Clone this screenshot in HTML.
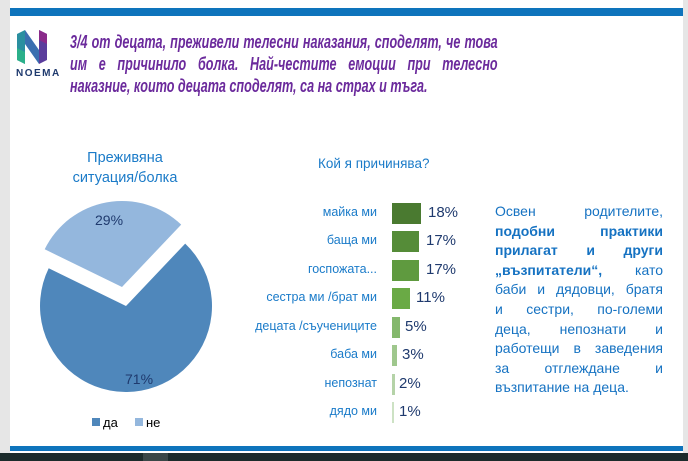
<!DOCTYPE html>
<html><head><meta charset="utf-8"><style>
body{margin:0;width:688px;height:461px;position:relative;background:#fff;font-family:"Liberation Sans","DejaVu Sans",sans-serif;overflow:hidden}
.a{position:absolute;white-space:nowrap}
.title{position:absolute;left:70px;top:31px;width:611px;color:#6b2a9c;font-style:italic;font-weight:bold;font-size:18px;line-height:22px;transform:scaleX(0.7);transform-origin:0 0}
.j{display:flex;justify-content:space-between;white-space:nowrap}
.l{white-space:nowrap}
.rt{position:absolute;left:495px;top:202px;width:168px;color:#1572c2;font-size:14px;line-height:19.6px}
.lbl{position:absolute;right:311px;color:#1a7bc9;font-size:12.5px;white-space:nowrap}
.val{position:absolute;color:#1f3a6e;font-size:15px}
.bar{position:absolute;left:392px;height:21px}
</style></head><body>
<div class="a" style="left:0;top:0;width:10px;height:461px;background:#e6e6e6"></div>
<div class="a" style="left:683px;top:0;width:5px;height:461px;background:#e6e6e6"></div>
<div class="a" style="left:10px;top:8px;width:673px;height:8px;background:#0e74bc"></div>
<div class="a" style="left:10px;top:446px;width:673px;height:5px;background:#0e74bc"></div>
<div class="a" style="left:0;top:453px;width:688px;height:8px;background:#1c2b2b"></div>
<div class="a" style="left:143px;top:453px;width:25px;height:8px;background:#3a4747"></div>
<svg class="a" style="left:17px;top:30px" width="30" height="34" viewBox="0 0 30 34">
<polygon points="0,4 8,0 8,34 0,30" fill="#2a8fa0"/><polygon points="0,18 8,22 8,34 0,30" fill="#2bb08a"/>
<polygon points="8,0 22,20 22,34 8,14" fill="#3a6fb0"/><polygon points="22,0 30,4 30,30 22,34" fill="#5a3d9c"/><polygon points="22,0 30,4 30,14 22,10" fill="#8a2a8a"/>
</svg>
<div class="a" style="left:16px;top:68px;font-size:10px;font-weight:bold;color:#1f3a6e;letter-spacing:1.5px">NOEMA</div>
<div class="title">
<div class="j"><span>3/4</span> <span>от</span> <span>децата,</span> <span>преживели</span> <span>телесни</span> <span>наказания,</span> <span>споделят,</span> <span>че</span> <span>това</span></div>
<div class="j"><span>им</span> <span>е</span> <span>причинило</span> <span>болка.</span> <span>Най-честите</span> <span>емоции</span> <span>при</span> <span>телесно</span></div>
<div class="l">наказние, които децата споделят, са на страх и тъга.</div>
</div>
<div class="a" style="left:65px;top:148px;width:120px;text-align:center;color:#1b7bc8;font-size:14.5px;line-height:20px;white-space:normal">Преживяна ситуация/болка</div>
<svg class="a" style="left:0;top:0" width="688" height="461">
<path d="M126,306 L185.2,243.6 A86,86 0 1 1 48.7,268.3 Z" fill="#4f87bb"/>
<path d="M122,287 L44.7,249.3 A86,86 0 0 1 181.2,224.6 Z" fill="#94b7dd"/>
<text x="95" y="225" font-size="14" fill="#1f3a6e" font-family="Liberation Sans">29%</text>
<text x="125" y="384" font-size="14" fill="#1f3a6e" font-family="Liberation Sans">71%</text>
<rect x="92" y="418" width="8" height="8" fill="#4f87bb"/><text x="103" y="427" font-size="13" fill="#000" font-family="Liberation Sans">да</text>
<rect x="135" y="418" width="8" height="8" fill="#94b7dd"/><text x="146" y="427" font-size="13" fill="#000" font-family="Liberation Sans">не</text>
</svg>
<div class="a" style="left:318px;top:156px;color:#1b7bc8;font-size:13.5px">Кой я причинява?</div>
<div class="lbl" style="top:205px">майка ми</div><div class="bar" style="top:203px;width:29px;background:#4a7a30"></div><div class="val" style="left:428px;top:204px">18%</div>
<div class="lbl" style="top:233px">баща ми</div><div class="bar" style="top:231px;width:27px;background:#558c38"></div><div class="val" style="left:426px;top:232px">17%</div>
<div class="lbl" style="top:262px">госпожата...</div><div class="bar" style="top:260px;width:27px;background:#5f9a3f"></div><div class="val" style="left:426px;top:261px">17%</div>
<div class="lbl" style="top:290px">сестра ми /брат ми</div><div class="bar" style="top:288px;width:18px;background:#6aaa45"></div><div class="val" style="left:416px;top:289px">11%</div>
<div class="lbl" style="top:319px">децата /съучениците</div><div class="bar" style="top:317px;width:8px;background:#84b86c"></div><div class="val" style="left:405px;top:318px">5%</div>
<div class="lbl" style="top:347px">баба ми</div><div class="bar" style="top:345px;width:5px;background:#9fc78d"></div><div class="val" style="left:402px;top:346px">3%</div>
<div class="lbl" style="top:376px">непознат</div><div class="bar" style="top:374px;width:3px;background:#b5d3a8"></div><div class="val" style="left:399px;top:375px">2%</div>
<div class="lbl" style="top:404px">дядо ми</div><div class="bar" style="top:402px;width:2px;background:#cde2c4"></div><div class="val" style="left:399px;top:403px">1%</div>
<div class="rt">
<div class="j"><span>Освен</span> <span>родителите,</span></div>
<div class="j"><b>подобни</b> <b>практики</b></div>
<div class="j"><b>прилагат</b> <b>и</b> <b>други</b></div>
<div class="j"><b>„възпитатели“,</b> <span>като</span></div>
<div class="j"><span>баби</span> <span>и</span> <span>дядовци,</span> <span>братя</span></div>
<div class="j"><span>и</span> <span>сестри,</span> <span>по-големи</span></div>
<div class="j"><span>деца,</span> <span>непознати</span> <span>и</span></div>
<div class="j"><span>работещи</span> <span>в</span> <span>заведения</span></div>
<div class="j"><span>за</span> <span>отглеждане</span> <span>и</span></div>
<div class="l">възпитание на деца.</div>
</div>
</body></html>
